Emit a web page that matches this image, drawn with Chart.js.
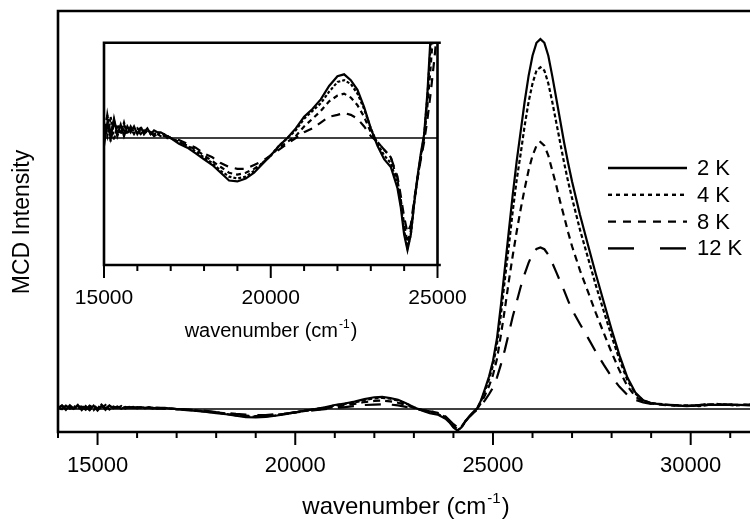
<!DOCTYPE html>
<html>
<head>
<meta charset="utf-8">
<script src="https://cdn.jsdelivr.net/npm/chart.js@4.4.1/dist/chart.umd.min.js"></script>
<style>
  html, body { margin: 0; padding: 0; background: #fff; }
  #wrap { position: relative; width: 750px; height: 521px; overflow: hidden; }
  #main { position: absolute; left: 0; top: 0; }
  #inset { position: absolute; left: 60px; top: 30px; }
</style>
</head>
<body>
<div id="wrap">
  <canvas id="main" width="750" height="521"></canvas>
  <canvas id="inset" width="430" height="320"></canvas>
</div>
<script>
// wavenumber grid (cm-1), shared by every temperature
var wavenumber = [
  14000, 14100, 14200, 14300, 14400, 14500, 14600, 14700, 14800, 14900,
  15000, 15100, 15200, 15300, 15400, 15500, 15600, 15700, 15800, 15900,
  16000, 16100, 16200, 16300, 16400, 16500, 16600, 16700, 16800, 16900, 17000,
  17250, 17500, 17750, 18000, 18250, 18500, 18750, 19000, 19250, 19500,
  19750, 20000, 20250, 20500, 20750, 21000, 21250, 21500, 21750, 22000,
  22200, 22400, 22600, 22800, 23000, 23200, 23400, 23600, 23800,
  23900, 24000, 24100, 24200, 24300, 24400, 24500, 24600, 24700, 24800,
  24900, 25000, 25100, 25200, 25300, 25400, 25500, 25600, 25700, 25800,
  25900, 26000, 26100, 26200, 26300, 26400, 26500, 26600, 26700, 26800,
  26900, 27000,
  27200, 27400, 27600, 27800, 28000, 28200, 28400, 28600, 28800, 29000,
  29300, 29600, 29900, 30200, 30500, 30800, 31100, 31500
];

// MCD intensity (normalised to the 2 K maximum)
var mcd2K = [
  0.002, 0.009, -0.002, 0.010, 0.001, 0.011, -0.003, 0.008, -0.002, 0.009,
  -0.004, 0.008, 0.000, 0.010, 0.002, 0.007, 0.001, 0.006, 0.003, 0.006,
  0.002, 0.005, 0.003, 0.005, 0.002, 0.004, 0.003, 0.003, 0.002, 0.001, 0.000,
  -0.003, -0.005, -0.008, -0.011, -0.014, -0.018, -0.022, -0.0225, -0.021, -0.018,
  -0.0135, -0.009, -0.004, 0.000, 0.005, 0.011, 0.015, 0.020, 0.027, 0.032,
  0.033, 0.030, 0.025, 0.016, 0.005, -0.004, -0.011, -0.015, -0.026,
  -0.036, -0.050, -0.058, -0.050, -0.034, -0.020, -0.008, 0.002, 0.024, 0.055,
  0.088, 0.13, 0.19, 0.28, 0.38, 0.48, 0.58, 0.67, 0.75, 0.83,
  0.90, 0.955, 0.99, 1.0, 0.99, 0.955, 0.90, 0.84, 0.78, 0.72,
  0.665, 0.615,
  0.525, 0.445, 0.365, 0.29, 0.215, 0.145, 0.085, 0.045, 0.024, 0.016,
  0.012, 0.010, 0.008, 0.010, 0.012, 0.011, 0.012, 0.010
];
var mcd4K = [
  0.005, -0.001, 0.008, 0.001, 0.009, -0.002, 0.010, 0.002, 0.007, -0.003,
  0.008, 0.001, 0.011, -0.001, 0.007, 0.002, 0.008, 0.002, 0.005, 0.004,
  0.003, 0.006, 0.002, 0.004, 0.003, 0.002, 0.003, 0.002, 0.002, 0.000, 0.000,
  -0.002, -0.004, -0.007, -0.010, -0.013, -0.017, -0.020, -0.021, -0.020, -0.017,
  -0.013, -0.009, -0.004, 0.000, 0.004, 0.010, 0.014, 0.018, 0.024, 0.029,
  0.030, 0.028, 0.023, 0.015, 0.005, -0.003, -0.009, -0.013, -0.024,
  -0.034, -0.048, -0.057, -0.050, -0.034, -0.021, -0.009, 0.001, 0.022, 0.050,
  0.080, 0.118, 0.175, 0.255, 0.35, 0.44, 0.535, 0.62, 0.69, 0.765,
  0.83, 0.88, 0.915, 0.924, 0.915, 0.88, 0.83, 0.775, 0.72, 0.665,
  0.615, 0.57,
  0.485, 0.41, 0.335, 0.265, 0.197, 0.133, 0.078, 0.042, 0.023, 0.016,
  0.013, 0.009, 0.010, 0.008, 0.011, 0.013, 0.010, 0.012
];
var mcd8K = [
  0.003, 0.010, 0.000, 0.007, -0.002, 0.009, 0.002, 0.006, -0.003, 0.011,
  0.001, 0.012, -0.002, 0.008, 0.004, 0.003, 0.007, 0.003, 0.005, 0.002,
  0.005, 0.003, 0.002, 0.004, 0.002, 0.003, 0.002, 0.001, 0.001, 0.001, 0.000,
  -0.002, -0.004, -0.006, -0.009, -0.012, -0.015, -0.018, -0.019, -0.018, -0.016,
  -0.013, -0.009, -0.005, -0.002, 0.001, 0.006, 0.010, 0.014, 0.019, 0.022,
  0.023, 0.021, 0.017, 0.011, 0.003, -0.002, -0.006, -0.010, -0.022,
  -0.032, -0.045, -0.054, -0.048, -0.033, -0.021, -0.010, 0.000, 0.017, 0.038,
  0.062, 0.092, 0.135, 0.20, 0.27, 0.345, 0.415, 0.48, 0.54, 0.595,
  0.645, 0.685, 0.712, 0.722, 0.712, 0.685, 0.645, 0.605, 0.56, 0.52,
  0.478, 0.44,
  0.375, 0.318, 0.26, 0.206, 0.153, 0.104, 0.062, 0.034, 0.02, 0.015,
  0.011, 0.010, 0.009, 0.011, 0.013, 0.012, 0.011, 0.012
];
var mcd12K = [
  0.006, 0.000, 0.009, 0.002, 0.010, 0.001, 0.007, -0.002, 0.009, 0.003,
  -0.002, 0.012, 0.002, 0.009, 0.001, 0.006, 0.004, 0.002, 0.006, 0.003,
  0.004, 0.002, 0.004, 0.002, 0.003, 0.001, 0.002, 0.002, 0.001, 0.001, 0.000,
  -0.001, -0.003, -0.005, -0.008, -0.010, -0.013, -0.015, -0.016, -0.016, -0.014,
  -0.012, -0.009, -0.006, -0.003, 0.000, 0.003, 0.005, 0.008, 0.011, 0.012,
  0.013, 0.012, 0.010, 0.006, 0.001, -0.002, -0.006, -0.010, -0.020,
  -0.030, -0.041, -0.049, -0.045, -0.032, -0.021, -0.011, -0.002, 0.010, 0.024,
  0.040, 0.058, 0.085, 0.12, 0.16, 0.205, 0.25, 0.29, 0.33, 0.365,
  0.395, 0.42, 0.433, 0.437, 0.432, 0.417, 0.395, 0.37, 0.345, 0.32,
  0.293, 0.268,
  0.23, 0.193, 0.155, 0.12, 0.087, 0.06, 0.038, 0.025, 0.018, 0.014,
  0.012, 0.011, 0.009, 0.010, 0.016, 0.012, 0.013, 0.011
];

var seriesNames = ['2 K', '4 K', '8 K', '12 K'];
// tick positions (every 1000 cm-1) and the labelled ones
var mainTicks = [14000, 15000, 16000, 17000, 18000, 19000, 20000, 21000, 22000,
  23000, 24000, 25000, 26000, 27000, 28000, 29000, 30000, 31000];
var mainTickLabels = [15000, 20000, 25000, 30000];
var insetTicks = [15000, 16000, 17000, 18000, 19000, 20000, 21000, 22000,
  23000, 24000, 25000];
var insetTickLabels = [15000, 20000, 25000];

var FONT = '"Liberation Sans", Arial, sans-serif';
var allSeries = [mcd2K, mcd4K, mcd8K, mcd12K];
var curveDash = [[], [4, 2.5], [7, 5], [16, 11]];
var insetDash = [[], [3, 2], [5, 4], [9, 7]];
var legendDash = [[], [4, 4], [8, 7], [26, 26]];

Chart.defaults.font.family = FONT;
Chart.defaults.color = '#000';

function buildDatasets(dashes) {
  return allSeries.map(function (vals, i) {
    return {
      label: seriesNames[i],
      data: vals.map(function (v, k) { return { x: wavenumber[k], y: v }; }),
      borderColor: '#000',
      borderWidth: 2.2,
      borderDash: dashes[i],
      pointRadius: 0,
      fill: false,
      tension: 0
    };
  });
}

// "wavenumber (cm-1)" with a raised -1
function drawWaveTitle(ctx, cx, baseY, size) {
  var sup = Math.round(size * 0.62);
  var a = 'wavenumber (cm', b = '-1', c = ')';
  ctx.font = size + 'px ' + FONT;
  var wa = ctx.measureText(a).width, wc = ctx.measureText(c).width;
  ctx.font = sup + 'px ' + FONT;
  var wb = ctx.measureText(b).width;
  var x = cx - (wa + wb + wc) / 2;
  ctx.fillStyle = '#000';
  ctx.textAlign = 'left';
  ctx.textBaseline = 'alphabetic';
  ctx.font = size + 'px ' + FONT;
  ctx.fillText(a, x, baseY);
  ctx.font = sup + 'px ' + FONT;
  ctx.fillText(b, x + wa + 1, baseY - size * 0.45);
  ctx.font = size + 'px ' + FONT;
  ctx.fillText(c, x + wa + wb + 2, baseY);
}

// frame, zero line and tick marks drawn from the chart's own scales
function framePlugin(opts) {
  return {
    id: 'frame',
    beforeDatasetsDraw: function (chart) {
      var ctx = chart.ctx, a = chart.chartArea;
      var y0 = chart.scales.y.getPixelForValue(0);
      ctx.save();
      ctx.strokeStyle = '#000';
      ctx.lineWidth = 1.6;
      ctx.beginPath();
      ctx.moveTo(a.left, y0);
      ctx.lineTo(a.right, y0);
      ctx.stroke();
      ctx.restore();
    },
    afterDatasetsDraw: function (chart) {
      var ctx = chart.ctx, a = chart.chartArea, xs = chart.scales.x;
      ctx.save();
      ctx.strokeStyle = '#000';
      ctx.lineWidth = 2.6;
      ctx.lineCap = 'square';
      ctx.beginPath();
      ctx.moveTo(a.left, a.top);
      ctx.lineTo(a.left, a.bottom);
      ctx.lineTo(a.right + 2, a.bottom);
      ctx.moveTo(a.left, a.top);
      ctx.lineTo(a.right + 2, a.top);
      if (opts.rightBorder) {
        ctx.moveTo(a.right, a.top);
        ctx.lineTo(a.right, a.bottom);
      }
      ctx.stroke();
      ctx.lineWidth = 2;
      ctx.lineCap = 'butt';
      xs.ticks.forEach(function (t) {
        var px = xs.getPixelForValue(t.value);
        var len = opts.labels.indexOf(t.value) >= 0 ? 13 : 6;
        ctx.beginPath();
        ctx.moveTo(px, a.bottom);
        ctx.lineTo(px, a.bottom + len);
        ctx.stroke();
      });
      ctx.restore();
    },
    afterDraw: function (chart) {
      var ctx = chart.ctx;
      ctx.save();
      drawWaveTitle(ctx, opts.titleX, opts.titleY, opts.titleSize);
      if (opts.yTitle) {
        ctx.translate(opts.yTitle.x, opts.yTitle.y);
        ctx.rotate(-Math.PI / 2);
        ctx.font = opts.yTitle.size + 'px ' + FONT;
        ctx.textAlign = 'center';
        ctx.textBaseline = 'middle';
        ctx.fillText(opts.yTitle.text, 0, 0);
        ctx.setTransform(1, 0, 0, 1, 0, 0);
      }
      if (opts.legend) {
        var L = opts.legend;
        chart.data.datasets.forEach(function (ds, i) {
          var y = L.y + i * L.step;
          ctx.strokeStyle = '#000';
          ctx.lineWidth = 2.4;
          ctx.setLineDash(legendDash[i]);
          ctx.beginPath();
          ctx.moveTo(L.x, y);
          ctx.lineTo(L.x + L.len, y);
          ctx.stroke();
          ctx.setLineDash([]);
          ctx.fillStyle = '#000';
          ctx.font = L.size + 'px ' + FONT;
          ctx.textAlign = 'left';
          ctx.textBaseline = 'middle';
          ctx.fillText(ds.label, L.x + L.len + 10, y + 1);
        });
      }
      ctx.restore();
    }
  };
}

function axisOptions(min, max, tickVals, labels, size, pad, height) {
  return {
    type: 'linear',
    min: min,
    max: max,
    afterBuildTicks: function (s) {
      s.ticks = tickVals.map(function (v) { return { value: v }; });
    },
    afterFit: function (s) {
      s.height = height;
      s.paddingLeft = 0;
      s.paddingRight = 0;
    },
    grid: { display: false, drawTicks: false },
    border: { display: false },
    ticks: {
      autoSkip: false,
      maxRotation: 0,
      padding: pad,
      font: { size: size },
      callback: function (v) { return labels.indexOf(v) >= 0 ? String(v) : ''; }
    }
  };
}

new Chart(document.getElementById('main'), {
  type: 'line',
  data: { datasets: buildDatasets(curveDash) },
  options: {
    responsive: false,
    animation: false,
    layout: { padding: { top: 11, right: 0, left: 0, bottom: 0 } },
    plugins: { legend: { display: false }, tooltip: { enabled: false } },
    scales: {
      x: axisOptions(14000, 31500, mainTicks, mainTickLabels, 22, 21, 89),
      y: {
        min: -0.062,
        max: 1.076,
        afterFit: function (s) { s.width = 58; },
        grid: { display: false, drawTicks: false },
        border: { display: false },
        ticks: { display: false }
      }
    }
  },
  plugins: [framePlugin({
    labels: mainTickLabels,
    titleX: 405, titleY: 514, titleSize: 24,
    yTitle: { x: 23, y: 222, text: 'MCD Intensity', size: 23 },
    legend: { x: 608, y: 168, step: 26.8, len: 79, size: 22 }
  })]
});

new Chart(document.getElementById('inset'), {
  type: 'line',
  data: { datasets: buildDatasets(insetDash) },
  options: {
    responsive: false,
    animation: false,
    layout: { padding: { top: 12.7, right: 52.5, left: 0, bottom: 0 } },
    plugins: { legend: { display: false }, tooltip: { enabled: false } },
    scales: {
      x: axisOptions(15000, 25000, insetTicks, insetTickLabels, 21, 21, 85),
      y: {
        min: -0.0658,
        max: 0.0494,
        afterFit: function (s) { s.width = 44; },
        grid: { display: false, drawTicks: false },
        border: { display: false },
        ticks: { display: false }
      }
    }
  },
  plugins: [framePlugin({
    labels: insetTickLabels,
    rightBorder: true,
    titleX: 210, titleY: 307, titleSize: 20
  })]
});
</script>
</body>
</html>
